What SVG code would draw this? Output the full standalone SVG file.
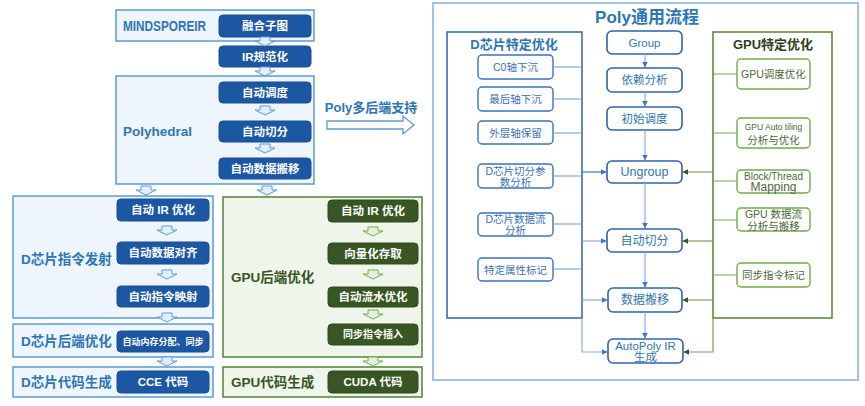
<svg xmlns="http://www.w3.org/2000/svg" width="865" height="406" viewBox="0 0 865 406">
<defs>
<style>
text{font-family:"Liberation Sans","Noto Sans CJK SC",sans-serif;text-anchor:middle;dominant-baseline:central}
.bx{fill:#eef5fc;stroke:#5b9bd5;stroke-width:1.5}
.gbx{fill:#eff5ea;stroke:#538135;stroke-width:1.5}
.bn{fill:#1c57a3;stroke:#1a4f94;stroke-width:1}
.gn{fill:#375623;stroke:#2f4a1e;stroke-width:1}
.wt{fill:#fff;font-weight:bold;font-size:11.5px}
.lbl{fill:#2e75b6;font-weight:bold;font-size:13.5px;text-anchor:start}
.glbl{fill:#375623;font-weight:bold;font-size:13.5px;text-anchor:start}
.da{fill:#e4eefa;stroke:#5b9bd5;stroke-width:1}
.ga{fill:#e6f0de;stroke:#70ad47;stroke-width:1}
.cn{fill:#fff;stroke:#2e62ad;stroke-width:1.6}
.dn{fill:#fff;stroke:#3b70bd;stroke-width:1.4}
.gpn{fill:#fff;stroke:#70ad47;stroke-width:1.4}
.ct{fill:#2e75b6;font-size:11.5px}
.dt{fill:#3a6fb8;font-size:10.5px}
.gt{fill:#4b6a35;font-size:10.5px}
.ln{fill:none;stroke:#6a9ad6;stroke-width:1}
.gl{fill:none;stroke:#70ad47;stroke-width:1}
.ca{fill:none;stroke:#8faadc;stroke-width:1.2;marker-end:url(#mb)}
.ga2{fill:none;stroke:#7a9e5c;stroke-width:1.2;marker-end:url(#mg)}
</style>
<marker id="mb" viewBox="0 0 10 10" refX="9" refY="5" markerWidth="6" markerHeight="6" orient="auto" markerUnits="userSpaceOnUse"><path d="M0,0L10,5L0,10z" fill="#4472c4"/></marker>
<marker id="mg" viewBox="0 0 10 10" refX="9" refY="5" markerWidth="6" markerHeight="6" orient="auto" markerUnits="userSpaceOnUse"><path d="M0,0L10,5L0,10z" fill="#375623"/></marker>
<path id="arr" d="M-5,0H5V4H10L0,9L-10,4H-5Z"/>
</defs>
<rect width="865" height="406" fill="#fff"/>

<!-- left: MindSpore IR -->
<g id="mindsporeir">
<rect class="bx" x="116" y="10" width="198" height="31"/>
<text class="lbl" x="123" y="26" style="font-size:14px" textLength="83" lengthAdjust="spacingAndGlyphs">MINDSPOREIR</text>
</g>
<g id="n-fuse"><rect class="bn" x="219" y="15" width="92" height="22" rx="4"/><text class="wt" x="265" y="26">融合子图</text></g>
<g id="n-irnorm"><rect class="bn" x="219" y="46" width="92" height="21" rx="4"/><text class="wt" x="265" y="56.5">IR规范化</text></g>

<g id="polyhedral">
<rect class="bx" x="116" y="76" width="198" height="108"/>
<text class="lbl" x="123" y="131">Polyhedral</text>
</g>
<g id="n-sched"><rect class="bn" x="219" y="82" width="92" height="21" rx="4"/><text class="wt" x="265" y="92.5">自动调度</text></g>
<g id="n-tile"><rect class="bn" x="219" y="121" width="92" height="21" rx="4"/><text class="wt" x="265" y="131.5">自动切分</text></g>
<g id="n-move"><rect class="bn" x="219" y="158" width="92" height="21" rx="4"/><text class="wt" x="265" y="168.5">自动数据搬移</text></g>

<!-- D chip -->
<g id="d-emit">
<rect class="bx" x="13" y="196" width="200" height="122"/>
<text class="lbl" x="21" y="259">D芯片指令发射</text>
</g>
<g id="d-ir"><rect class="bn" x="117" y="199" width="92" height="22" rx="4"/><text class="wt" x="163" y="210">自动 IR 优化</text></g>
<g id="d-align"><rect class="bn" x="117" y="242" width="92" height="22" rx="4"/><text class="wt" x="163" y="253">自动数据对齐</text></g>
<g id="d-map"><rect class="bn" x="117" y="286" width="92" height="21" rx="4"/><text class="wt" x="163" y="296.5">自动指令映射</text></g>

<g id="d-backend">
<rect class="bx" x="13" y="324" width="200" height="33"/>
<text class="lbl" x="21" y="341">D芯片后端优化</text>
</g>
<g id="d-mem"><rect class="bn" x="117" y="331" width="92" height="21" rx="4"/><text class="wt" x="163" y="341.5" style="font-size:9px">自动内存分配、同步</text></g>

<g id="d-codegen">
<rect class="bx" x="13" y="367" width="200" height="30"/>
<text class="lbl" x="21" y="382">D芯片代码生成</text>
</g>
<g id="d-cce"><rect class="bn" x="117" y="371" width="92" height="22" rx="4"/><text class="wt" x="163" y="382">CCE 代码</text></g>

<!-- GPU -->
<g id="gpu-backend">
<rect class="gbx" x="223" y="197" width="199" height="160"/>
<text class="glbl" x="231" y="277">GPU后端优化</text>
</g>
<g id="g-ir"><rect class="gn" x="328" y="200" width="90" height="22" rx="4"/><text class="wt" x="373" y="211">自动 IR 优化</text></g>
<g id="g-vec"><rect class="gn" x="328" y="243" width="90" height="21" rx="4"/><text class="wt" x="373" y="253.5">向量化存取</text></g>
<g id="g-pipe"><rect class="gn" x="328" y="287" width="90" height="20" rx="4"/><text class="wt" x="373" y="297">自动流水优化</text></g>
<g id="g-sync"><rect class="gn" x="328" y="324" width="90" height="21" rx="4"/><text class="wt" x="373" y="334.5" style="font-size:10px">同步指令插入</text></g>

<g id="gpu-codegen">
<rect class="gbx" x="223" y="367" width="199" height="30"/>
<text class="glbl" x="231" y="382">GPU代码生成</text>
</g>
<g id="g-cuda"><rect class="gn" x="328" y="371" width="90" height="22" rx="4"/><text class="wt" x="373" y="382">CUDA 代码</text></g>

<!-- small flow arrows (left) -->
<g id="left-arrows">
<use href="#arr" class="da" x="265" y="37"/>
<use href="#arr" class="da" x="265" y="67"/>
<use href="#arr" class="da" x="265" y="106"/>
<use href="#arr" class="da" x="265" y="144"/>
<use href="#arr" class="da" x="146" y="186"/>
<use href="#arr" class="da" x="267" y="186"/>
<use href="#arr" class="da" x="167" y="226"/>
<use href="#arr" class="da" x="167" y="270"/>
<use href="#arr" class="da" x="167" y="313"/>
<use href="#arr" class="da" x="167" y="357"/>
<use href="#arr" class="ga" x="373" y="227"/>
<use href="#arr" class="ga" x="373" y="270"/>
<use href="#arr" class="ga" x="373" y="310"/>
<use href="#arr" class="ga" x="373" y="357"/>
</g>

<!-- big arrow -->
<g id="poly-multi">
<text x="371" y="107" style="fill:#2e75b6;font-weight:bold;font-size:13px">Poly多后端支持</text>
<polygon points="327,121 403,121 403,116 414,125 403,134 403,129 327,129" fill="#fff" stroke="#5b9bd5" stroke-width="1.3"/>
</g>

<!-- right panel -->
<g id="poly-flow">
<rect x="433" y="3" width="425" height="377" fill="#fff" stroke="#9dc3e6" stroke-width="2"/>
<text x="647" y="17" style="fill:#2e75b6;font-weight:bold;font-size:17px">Poly通用流程</text>
</g>

<g id="d-specific">
<rect x="447" y="32" width="135" height="286" fill="#fff" stroke="#2e62ad" stroke-width="1.5"/>
<text x="514" y="44" style="fill:#2e75b6;font-weight:bold;font-size:13px">D芯片特定优化</text>
</g>
<g id="d1"><rect class="dn" x="478" y="55" width="75" height="24" rx="4"/><text class="dt" x="515.5" y="67">C0轴下沉</text></g>
<g id="d2"><rect class="dn" x="478" y="87" width="75" height="24" rx="4"/><text class="dt" x="515.5" y="99">最后轴下沉</text></g>
<g id="d3"><rect class="dn" x="478" y="121" width="75" height="23" rx="4"/><text class="dt" x="515.5" y="132.5">外层轴保留</text></g>
<g id="d4"><rect class="dn" x="478" y="164" width="75" height="24" rx="4"/><text class="dt" x="515.5" y="170.5">D芯片切分参</text><text class="dt" x="515.5" y="181.5">数分析</text></g>
<g id="d5"><rect class="dn" x="478" y="213" width="75" height="23" rx="4"/><text class="dt" x="515.5" y="219">D芯片数据流</text><text class="dt" x="515.5" y="230">分析</text></g>
<g id="d6"><rect class="dn" x="478" y="258" width="75" height="23" rx="4"/><text class="dt" x="515.5" y="269.5">特定属性标记</text></g>

<g id="gpu-specific">
<rect x="713" y="32" width="119" height="286" fill="#fff" stroke="#548235" stroke-width="1.5"/>
<text x="773" y="44" style="fill:#2f3f22;font-weight:bold;font-size:13px">GPU特定优化</text>
</g>
<g id="g1"><rect class="gpn" x="737" y="59" width="73" height="30" rx="4"/><text class="gt" x="773.5" y="74">GPU调度优化</text></g>
<g id="g2"><rect class="gpn" x="737" y="118" width="73" height="30" rx="4"/><text class="gt" x="773.5" y="127" style="font-size:8.5px">GPU Auto tiling</text><text class="gt" x="773.5" y="139.5">分析与优化</text></g>
<g id="g3"><rect class="gpn" x="737" y="170" width="73" height="23" rx="4"/><text class="gt" x="773.5" y="176" style="font-size:10px">Block/Thread</text><text class="gt" x="773.5" y="187" style="font-size:12px">Mapping</text></g>
<g id="g4"><rect class="gpn" x="737" y="208" width="73" height="23" rx="4"/><text class="gt" x="773.5" y="214">GPU 数据流</text><text class="gt" x="773.5" y="225.5">分析与搬移</text></g>
<g id="g5"><rect class="gpn" x="737" y="263" width="73" height="24" rx="4"/><text class="gt" x="773.5" y="275">同步指令标记</text></g>

<g id="c-group"><rect class="cn" x="607" y="31" width="75" height="23" rx="5"/><text class="ct" x="644.5" y="42.5">Group</text></g>
<g id="c-dep"><rect class="cn" x="607" y="68" width="75" height="24" rx="5"/><text class="ct" x="644.5" y="80">依赖分析</text></g>
<g id="c-init"><rect class="cn" x="607" y="107" width="75" height="23" rx="5"/><text class="ct" x="644.5" y="118.5">初始调度</text></g>
<g id="c-ungroup"><rect class="cn" x="607" y="161" width="75" height="22" rx="5"/><text class="ct" x="644.5" y="172" style="font-size:12.5px">Ungroup</text></g>
<g id="c-tile"><rect class="cn" x="607" y="229" width="75" height="23" rx="5"/><text class="ct" x="644.5" y="240.5" style="font-size:12px">自动切分</text></g>
<g id="c-move"><rect class="cn" x="608" y="288" width="74" height="24" rx="5"/><text class="ct" x="645" y="300" style="font-size:12px">数据搬移</text></g>
<g id="c-autopoly"><rect class="cn" x="608" y="339" width="75" height="24" rx="5"/><text class="ct" x="645.5" y="345.5">AutoPoly IR</text><text class="ct" x="645.5" y="357">生成</text></g>

<g id="connectors">
<!-- D item bus -->
<path class="ln" d="M553,67H582M553,99H582M553,133H582M553,176H582M553,224H582M553,269H582"/>
<path class="ca" style="stroke:#4472c4" d="M582,172H606"/>
<path class="ca" d="M582,241H606"/>
<path class="ca" d="M582,300H607"/>
<path class="ca" d="M582,318V352H607"/>
<!-- GPU item bus -->
<path class="gl" d="M737,74H713M737,133H713M737,181H713M737,220H713M737,275H713"/>
<path class="ga2" d="M713,172H683"/>
<path class="ga2" d="M713,241H683"/>
<path class="ga2" d="M713,300H683"/>
<path class="ga2" d="M713,318V352H684"/>
<!-- main chain -->
<path class="ca" d="M645,54V67"/>
<path class="ca" d="M645,92V106"/>
<path class="ca" d="M645,130V160"/>
<path class="ca" d="M645,183V228"/>
<path class="ca" d="M645,252V287"/>
<path class="ca" d="M645,312V338"/>
</g>
</svg>
